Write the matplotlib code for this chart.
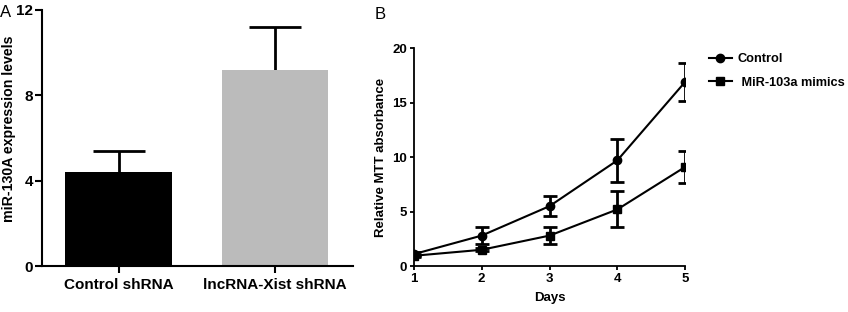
import numpy as np
import matplotlib.pyplot as plt

plt.rcParams['font.family'] = ['Liberation Sans', 'DejaVu Sans']

# panel A data
groups = ['Control shRNA', 'lncRNA-Xist shRNA']
levels = [4.4, 9.2]
levels_err = [1.0, 2.0]
bar_colors = ['#000000', '#bbbbbb']

# panel B data
days = [1, 2, 3, 4, 5]
control = [1.1, 2.8, 5.5, 9.7, 16.9]
control_err = [0.2, 0.75, 0.9, 2.0, 1.75]
mimics = [0.95, 1.5, 2.8, 5.2, 9.1]
mimics_err = [0.1, 0.15, 0.8, 1.65, 1.5]

fig = plt.figure(figsize=(8.48, 3.12), dpi=100)

# ---- A ----
axA = fig.add_axes([0.0495, 0.147, 0.3665, 0.821])
x = np.arange(len(groups))
axA.bar(x, levels, width=0.68, color=bar_colors, zorder=2)
# lower half of the bar sits behind the bar, only the upper whisker shows
axA.errorbar(x, levels, yerr=levels_err, fmt='none', ecolor='black',
             elinewidth=2, capsize=19, capthick=2, zorder=1)
axA.set_xlim(-0.49, 1.5)
axA.set_ylim(0, 12)
axA.set_yticks([0, 4, 8, 12])
axA.set_xticks(x)
axA.set_xticklabels(groups, fontsize=11, fontweight='bold')
axA.set_ylabel('miR-130A expression levels', fontsize=10.2, fontweight='bold')
axA.yaxis.set_label_coords(-0.085, 0.535)
for s in ['top', 'right']:
    axA.spines[s].set_visible(False)
for s in ['left', 'bottom']:
    axA.spines[s].set_linewidth(1.5)
axA.tick_params(width=1.5, length=5, labelsize=11)
axA.tick_params(axis='y', pad=1.5)
for t in axA.get_yticklabels():
    t.set_fontweight('bold')
fig.text(0.0, 0.945, 'A', fontsize=12)

# ---- B ----
axB = fig.add_axes([0.488, 0.147, 0.32, 0.699])
axB.errorbar(days, control, yerr=control_err, fmt='none', ecolor='black',
             elinewidth=2, capsize=5, capthick=2)
axB.errorbar(days, mimics, yerr=mimics_err, fmt='none', ecolor='black',
             elinewidth=2, capsize=5, capthick=2)
axB.plot(days, control, color='black', marker='o', markersize=6, linewidth=1.5,
         label='Control')
axB.plot(days, mimics, color='black', marker='s', markersize=6, linewidth=1.5,
         label=' MiR-103a mimics')
axB.set_xlim(1, 5)
axB.set_ylim(0, 20)
axB.set_xticks(days)
axB.set_yticks([0, 5, 10, 15, 20])
axB.set_xlabel('Days', fontsize=9.5, fontweight='bold', labelpad=5)
axB.set_ylabel('Relative MTT absorbance', fontsize=9.5, fontweight='bold')
for s in ['top', 'right']:
    axB.spines[s].set_visible(False)
for s in ['left', 'bottom']:
    axB.spines[s].set_linewidth(1.3)
axB.tick_params(width=1.3, length=3, pad=2, labelsize=9.5)
for t in axB.get_xticklabels() + axB.get_yticklabels():
    t.set_fontweight('bold')
axB.legend(loc='upper left', bbox_to_anchor=(1.045, 1.03), frameon=False,
           prop={'weight': 'bold', 'size': 9.2}, handlelength=1.8,
           handletextpad=0.45, labelspacing=0.9)
fig.text(0.442, 0.94, 'B', fontsize=12)

fig.savefig('out.png', dpi=100)
